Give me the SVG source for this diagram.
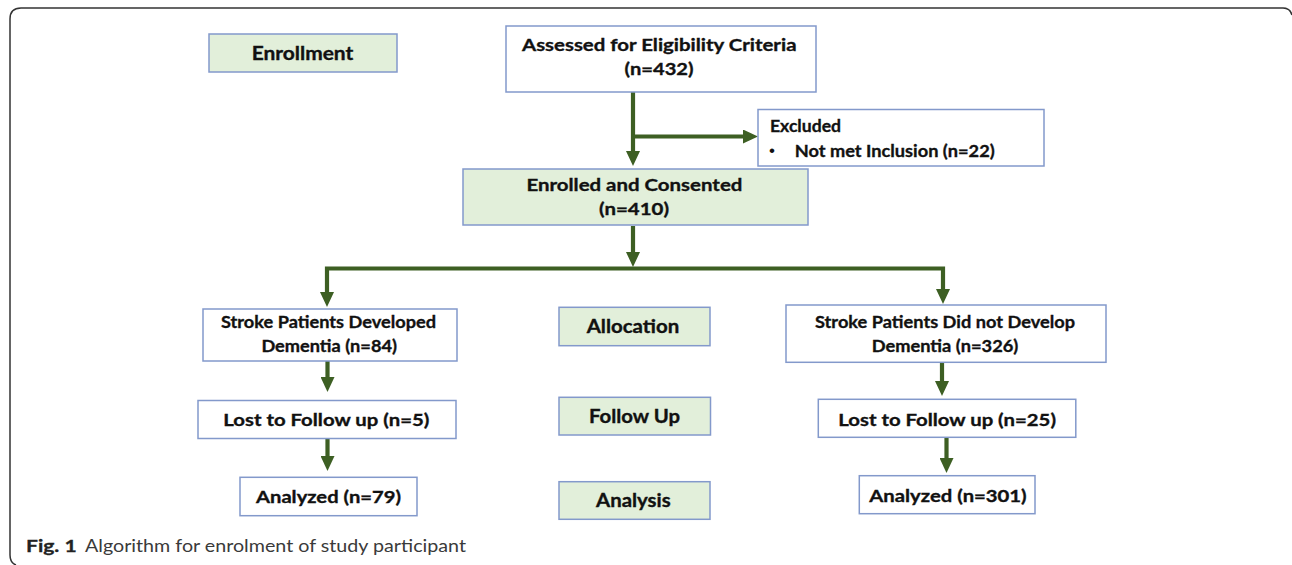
<svg xmlns="http://www.w3.org/2000/svg" width="1292" height="565" viewBox="0 0 1292 565">
<style>
.box{fill:#ffffff;stroke:#8399cb;stroke-width:1.5}
.gbox{fill:#e2efda;stroke:#8399cb;stroke-width:1.5}
.t{font-family:Lato,"Liberation Sans",sans-serif;font-weight:700;font-size:17.8px;fill:#111;stroke:#111;stroke-width:0.35}
.s{font-family:Lato,"Liberation Sans",sans-serif;font-weight:700;font-size:18.7px;fill:#111;stroke:#111;stroke-width:0.35}
.b{font-family:"Liberation Sans",sans-serif;font-size:17px;fill:#111}
.cap{font-family:Lato,"Open Sans","Liberation Sans",sans-serif;font-size:17px;fill:#3a3a3a}
.capb{font-family:Lato,"Open Sans","Liberation Sans",sans-serif;font-weight:700;font-size:17px;fill:#222;stroke:#222;stroke-width:0.3}
.c{fill:none;stroke:#3d5f23;stroke-width:4.2;stroke-linejoin:miter}
</style>
<defs>
<marker id="ah" viewBox="0 0 15 14" refX="7" refY="7" markerWidth="15" markerHeight="14" markerUnits="userSpaceOnUse" orient="auto-start-reverse">
<path d="M0,0 L15,7 L0,14 z" fill="#3d5f23"/>
</marker>
</defs>
<rect width="1292" height="565" fill="#ffffff"/>
<path d="M16 565 Q10 563 10 555 L10 19 Q10 8 21 8 L1283 8 Q1290 8 1292 15" fill="none" stroke="#333" stroke-width="1.5"/>

<g id="connectors">
<path class="c" d="M633 92 V158" marker-end="url(#ah)"/>
<path class="c" d="M633 136.5 H750" marker-end="url(#ah)"/>
<path class="c" d="M633 226 V259" marker-end="url(#ah)"/>
<path class="c" d="M327 299 V268.5 H943 V296" marker-start="url(#ah)" marker-end="url(#ah)"/>
<path class="c" d="M327.5 361 V384" marker-end="url(#ah)"/>
<path class="c" d="M327.5 439 V463" marker-end="url(#ah)"/>
<path class="c" d="M942 363 V388" marker-end="url(#ah)"/>
<path class="c" d="M946.5 438 V465" marker-end="url(#ah)"/>
</g>

<g id="enrollment">
<rect class="gbox" x="209" y="34" width="188" height="38"/>
<text class="s" x="251.7" y="60" textLength="101.6" lengthAdjust="spacingAndGlyphs">Enrollment</text>
</g>
<g id="assessed">
<rect class="box" x="506" y="26" width="310" height="66"/>
<text class="t" x="522" y="50.5" textLength="274.5" lengthAdjust="spacingAndGlyphs">Assessed for Eligibility Criteria</text>
<text class="t" x="624.5" y="75" textLength="69" lengthAdjust="spacingAndGlyphs">(n=432)</text>
</g>
<g id="excluded">
<rect class="box" x="758" y="109.5" width="286" height="56.5"/>
<text class="t" x="770" y="132.3" textLength="71" lengthAdjust="spacingAndGlyphs">Excluded</text>
<text class="b" x="769" y="156">•</text>
<text class="t" x="794.7" y="156.7" textLength="200" lengthAdjust="spacingAndGlyphs">Not met Inclusion (n=22)</text>
</g>
<g id="enrolled">
<rect class="gbox" x="463" y="169" width="345" height="56"/>
<text class="t" x="526.4" y="190.7" textLength="216" lengthAdjust="spacingAndGlyphs">Enrolled and Consented</text>
<text class="t" x="599" y="215" textLength="70" lengthAdjust="spacingAndGlyphs">(n=410)</text>
</g>
<g id="developed">
<rect class="box" x="203" y="309" width="254" height="52"/>
<text class="t" x="221" y="328.3" textLength="215" lengthAdjust="spacingAndGlyphs">Stroke Patients Developed</text>
<text class="t" x="261.4" y="352.3" textLength="135.6" lengthAdjust="spacingAndGlyphs">Dementia (n=84)</text>
</g>
<g id="allocation">
<rect class="gbox" x="559" y="307.3" width="151" height="38.4"/>
<text class="s" x="586.7" y="332.7" textLength="92.6" lengthAdjust="spacingAndGlyphs">Allocation</text>
</g>
<g id="notdeveloped">
<rect class="box" x="786" y="305" width="320" height="57.3"/>
<text class="t" x="815" y="328.3" textLength="260" lengthAdjust="spacingAndGlyphs">Stroke Patients Did not Develop</text>
<text class="t" x="871.7" y="352.3" textLength="146.6" lengthAdjust="spacingAndGlyphs">Dementia (n=326)</text>
</g>
<g id="lost-left">
<rect class="box" x="198" y="400.5" width="258" height="38"/>
<text class="t" x="223.3" y="425.7" textLength="206" lengthAdjust="spacingAndGlyphs">Lost to Follow up (n=5)</text>
</g>
<g id="followup">
<rect class="gbox" x="559" y="397.3" width="151.5" height="37.7"/>
<text class="s" x="589" y="423.3" textLength="91" lengthAdjust="spacingAndGlyphs">Follow Up</text>
</g>
<g id="lost-right">
<rect class="box" x="818.3" y="399.3" width="257.5" height="38"/>
<text class="t" x="838.3" y="425.7" textLength="217.7" lengthAdjust="spacingAndGlyphs">Lost to Follow up (n=25)</text>
</g>
<g id="analyzed-left">
<rect class="box" x="240" y="477.3" width="177" height="38.4"/>
<text class="t" x="256" y="503.3" textLength="145" lengthAdjust="spacingAndGlyphs">Analyzed (n=79)</text>
</g>
<g id="analysis">
<rect class="gbox" x="559" y="481.7" width="151" height="37.6"/>
<text class="s" x="596" y="506.7" textLength="74.7" lengthAdjust="spacingAndGlyphs">Analysis</text>
</g>
<g id="analyzed-right">
<rect class="box" x="859.3" y="475.7" width="175.7" height="38"/>
<text class="t" x="869.3" y="501.7" textLength="157.4" lengthAdjust="spacingAndGlyphs">Analyzed (n=301)</text>
</g>

<g id="caption">
<text class="capb" x="26" y="552" textLength="50.7" lengthAdjust="spacingAndGlyphs">Fig. 1</text>
<text class="cap" x="85" y="552" textLength="381" lengthAdjust="spacingAndGlyphs">Algorithm for enrolment of study participant</text>
</g>
</svg>
